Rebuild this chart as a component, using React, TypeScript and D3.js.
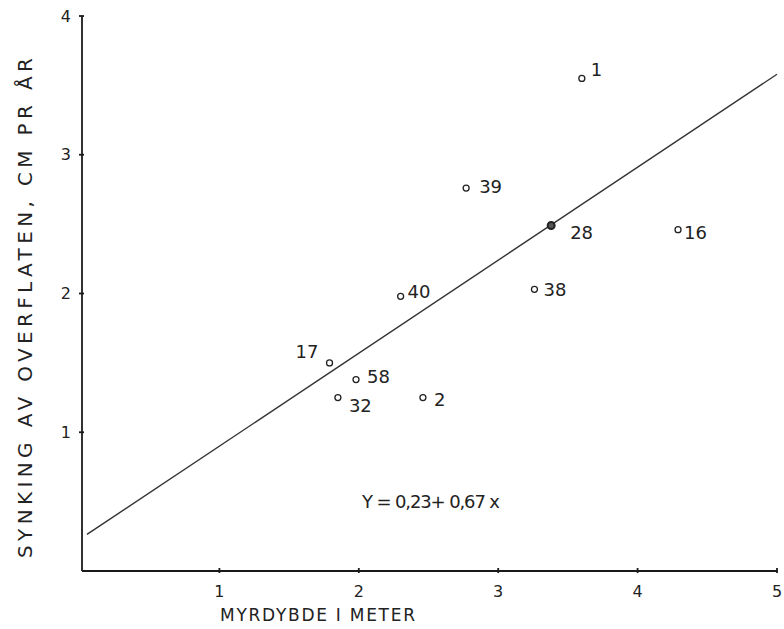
import React from 'react';
import * as d3 from 'd3';

// myrnummer, dybde (m), synking (cm/år)
const ids = ['1', '39', '28', '16', '40', '38', '17', '58', '32', '2'];
const depth = [3.6, 2.77, 3.38, 4.29, 2.3, 3.26, 1.79, 1.98, 1.85, 2.46];
const sink = [3.55, 2.76, 2.49, 2.46, 1.98, 2.03, 1.5, 1.38, 1.25, 1.25];

const xTicks = [1, 2, 3, 4, 5];
const yTicks = [1, 2, 3, 4];

// regresjon Y = 0,23 + 0,67 x
const intercept = 0.23;
const slope = 0.67;
const lineRange = [0.05, 5];

// label placement relative to point (dx, dy, anchor)
const labelPos: [number, number, string][] = [
    [9, -2, 'start'],
    [13, 5, 'start'],
    [19, 13, 'start'],
    [6, 9, 'start'],
    [7, 2, 'start'],
    [9, 7, 'start'],
    [-11, -5, 'end'],
    [11, 3, 'start'],
    [11, 14, 'start'],
    [11, 8, 'start'],
];

const font = "'DejaVu Sans', sans-serif";

export default function App() {
    const x = d3.scaleLinear().domain([0, 5]).range([80, 777]);
    const y = d3.scaleLinear().domain([0, 4]).range([571, 16]);

    const line = d3.line<number>()
        .x(d => x(d))
        .y(d => y(intercept + slope * d));

    const x0 = 82;
    const y0 = 571;

    return (
        <svg width={784} height={629} style={{ position: 'absolute', left: 0, top: 0, background: '#fff' }}>
            <g stroke="#1a1a1a" strokeWidth={1.8} fill="none">
                <line x1={x0} y1={y0} x2={x0} y2={y(4)} />
                <line x1={x0} y1={y0} x2={x(5)} y2={y0} />
                {yTicks.map(t => (
                    <line key={'yt' + t} x1={x0 - 3} x2={x0 + 2} y1={y(t)} y2={y(t)} />
                ))}
                {xTicks.map(t => (
                    <line key={'xt' + t} x1={x(t)} x2={x(t)} y1={y0 - 3} y2={y0 + 2} />
                ))}
            </g>
            <g fontFamily={font} fontSize={16} fill="#222">
                {yTicks.map(t => (
                    <text key={'yl' + t} x={71} y={y(t)} dy="0.35em" textAnchor="end">{t}</text>
                ))}
                {xTicks.map(t => (
                    <text key={'xl' + t} x={x(t)} y={597} textAnchor="middle">{t}</text>
                ))}
            </g>
            <text x={220} y={621} fontFamily={font} fontSize={17} fill="#222"
                textLength={195} lengthAdjust="spacing">MYRDYBDE I METER</text>
            <text transform="translate(32,558) rotate(-90)" fontFamily={font} fontSize={20} fill="#222"
                textLength={500} lengthAdjust="spacing">SYNKING AV OVERFLATEN, CM PR ÅR</text>

            <path d={line(lineRange) || ''} stroke="#333" strokeWidth={1.4} fill="none" />

            {ids.map((id, i) => (
                <g key={id}>
                    <circle cx={x(depth[i])} cy={y(sink[i])} r={id === '28' ? 3.5 : 3}
                        fill={id === '28' ? '#555' : '#fff'} stroke="#222" strokeWidth={id === '28' ? 2 : 1.3} />
                    <text x={x(depth[i]) + labelPos[i][0]} y={y(sink[i]) + labelPos[i][1]}
                        textAnchor={labelPos[i][2] as any} fontFamily={font} fontSize={18} fill="#222">{id}</text>
                </g>
            ))}

            <text x={362} y={508} fontFamily={font} fontSize={18} fill="#222"
                textLength={138} lengthAdjust="spacing">Y = 0,23+ 0,67 x</text>
        </svg>
    );
}
